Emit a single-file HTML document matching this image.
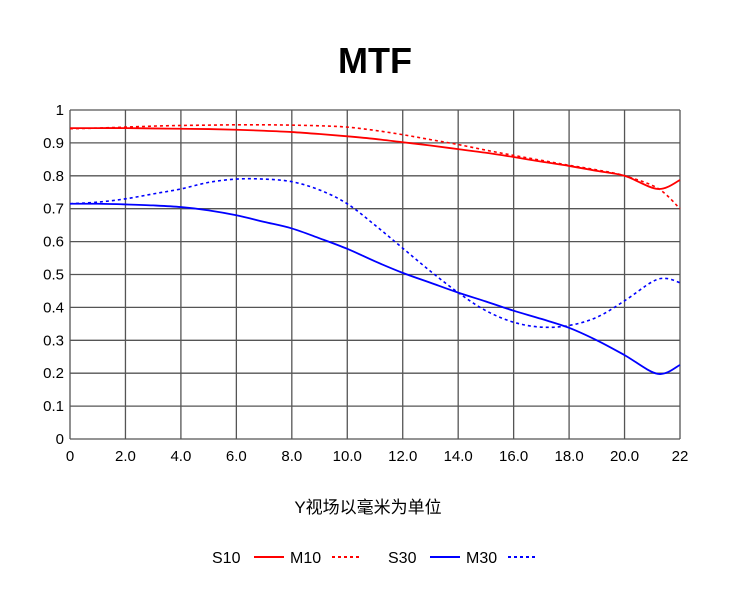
<!DOCTYPE html>
<html><head><meta charset="utf-8"><style>
body{margin:0;background:#fff;}
svg text{font-family:"Liberation Sans","Noto Sans CJK SC",sans-serif;}
</style></head><body>
<svg id="c" width="730" height="585" xmlns="http://www.w3.org/2000/svg">
<text x="375" y="73" text-anchor="middle" font-size="36" font-weight="bold">MTF</text>
<text x="368" y="513" text-anchor="middle" font-size="17">Y视场以毫米为单位</text>
<g id="grid"></g><g id="series"></g><g id="legend"></g>
</svg>
<script>
const xTicks=[0,2,4,6,8,10,12,14,16,18,20,22];
const xTickLabels=["0","2.0","4.0","6.0","8.0","10.0","12.0","14.0","16.0","18.0","20.0","22"];
const yTicks=[0,0.1,0.2,0.3,0.4,0.5,0.6,0.7,0.8,0.9,1];
const yTickLabels=["0","0.1","0.2","0.3","0.4","0.5","0.6","0.7","0.8","0.9","1"];
const xs=[0,1,2,3,4,5,6,7,8,9,10,11,12,13,14,15,16,17,18,19,20,21.2,22];
const s10=[0.945,0.945,0.945,0.944,0.943,0.942,0.940,0.937,0.933,0.927,0.920,0.912,0.902,0.892,0.881,0.870,0.857,0.843,0.830,0.815,0.800,0.760,0.787];
const m10=[0.943,0.945,0.948,0.951,0.953,0.954,0.955,0.955,0.954,0.952,0.948,0.938,0.925,0.910,0.895,0.878,0.862,0.847,0.832,0.818,0.800,0.762,0.700];
const s30=[0.715,0.715,0.713,0.710,0.705,0.695,0.680,0.660,0.640,0.610,0.578,0.540,0.505,0.475,0.445,0.418,0.390,0.365,0.338,0.300,0.255,0.198,0.225];
const xsM30=[0,1,2,3,4,5,6,7,8,9,10,11,12,13,14,15,16,17,18,19,20,21,21.5,22];
const m30=[0.715,0.720,0.730,0.745,0.760,0.780,0.790,0.790,0.782,0.757,0.715,0.650,0.580,0.510,0.445,0.390,0.355,0.340,0.345,0.370,0.420,0.478,0.488,0.475];
const L=70,R=680,T=110,B=439;
const sx=v=>L+(v/22)*(R-L), sy=v=>B-v*(B-T);
const NS="http://www.w3.org/2000/svg";
function mk(t,a,p){const e=document.createElementNS(NS,t);for(const k in a)e.setAttribute(k,a[k]);p.appendChild(e);return e;}
const g=document.getElementById('grid');
xTicks.forEach((v,i)=>{
 const l=mk('line',{x1:sx(v),x2:sx(v),y1:T,y2:B,stroke:'#555','stroke-width':1.3},g);
 
 
 const t=mk('text',{x:sx(v),y:B+22,'text-anchor':'middle','font-size':15,'font-weight':500},g);t.textContent=xTickLabels[i];
 
 
});
yTicks.forEach((v,i)=>{
 const l=mk('line',{x1:L,x2:R,y1:sy(v),y2:sy(v),stroke:'#555','stroke-width':1.3},g);
 
 
 const t=mk('text',{x:L-6,y:sy(v)+5,'text-anchor':'end','font-size':15,'font-weight':500},g);t.textContent=yTickLabels[i];
 
 
});
function path(X,Y){
 const p=X.map((x,i)=>[sx(x),sy(Y[i])]);let d='M'+p[0][0]+','+p[0][1];
 for(let i=0;i<p.length-1;i++){const p0=p[Math.max(0,i-1)],p1=p[i],p2=p[i+1],p3=p[Math.min(p.length-1,i+2)];
  d+=' C'+(p1[0]+(p2[0]-p0[0])/6)+','+(p1[1]+(p2[1]-p0[1])/6)+' '+(p2[0]-(p3[0]-p1[0])/6)+','+(p2[1]-(p3[1]-p1[1])/6)+' '+p2[0]+','+p2[1];}
 return d;}
const sg=document.getElementById('series');
const defs=[[xs,s10,'#f00',null,'s10-line'],[xs,m10,'#f00','3,3','m10-line'],[xs,s30,'#00f',null,'s30-line'],[xsM30,m30,'#00f','3,3','m30-line']];
defs.forEach(d=>{const e=mk('path',{d:path(d[0],d[1]),fill:'none',stroke:d[2],'stroke-width':d[3]?1.6:1.8},sg);
 if(d[3])e.setAttribute('stroke-dasharray',d[3]);
 
 });
const lg=document.getElementById('legend');
const leg=[['S10',212,'#f00',null],['M10',290,'#f00','3,3'],['S30',388,'#00f',null],['M30',466,'#00f','3,3']];
leg.forEach(l=>{const t=mk('text',{x:l[1],y:563,'font-size':16},lg);t.textContent=l[0];
 
 
 const ln=mk('line',{x1:l[1]+42,x2:l[1]+72,y1:557,y2:557,stroke:l[2],'stroke-width':2},lg);
 if(l[3])ln.setAttribute('stroke-dasharray',l[3]);
 
 });
</script>
</body></html>
